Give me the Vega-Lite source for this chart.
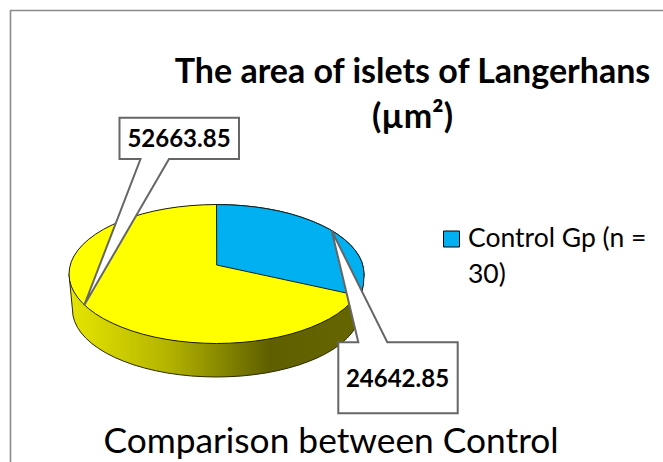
{"$schema":"https://vega.github.io/schema/vega-lite/v6.json","width":663,"height":462,"autosize":"none","padding":0,"background":"white","view":{"stroke":null},
"title":{"text":["The area of islets of Langerhans","(µm²)"],"font":"Lato","fontSize":34,"fontWeight":"bold","color":"#000000","anchor":"middle","dx":81,"offset":-135,"lineHeight":45},
"encoding":{"x":{"field":"x","type":"quantitative","scale":{"domain":[0,663],"nice":false,"zero":false},"axis":null},"y":{"field":"y","type":"quantitative","scale":{"domain":[462,0],"nice":false,"zero":false},"axis":null}},
"layer":[
{"data":{"values":[{"i":0,"x":10.5,"y":462},{"i":1,"x":10.5,"y":10.5},{"i":2,"x":663,"y":10.5}]},"mark":{"type":"line","stroke":"#8a8a8a","strokeWidth":1.6},"encoding":{"order":{"field":"i"}}},
{"data":{"values":[{"i":0,"x":69,"y":274},{"i":1,"x":72.5,"y":310},{"i":2,"x":73,"y":315.8},{"i":3,"x":74.7,"y":321.6},{"i":4,"x":77.4,"y":327.3},{"i":5,"x":81.2,"y":332.9},{"i":6,"x":86,"y":338.3},{"i":7,"x":91.8,"y":343.5},{"i":8,"x":98.5,"y":348.4},{"i":9,"x":106.2,"y":353.1},{"i":10,"x":114.7,"y":357.4},{"i":11,"x":123.9,"y":361.3},{"i":12,"x":133.9,"y":364.9},{"i":13,"x":144.5,"y":368},{"i":14,"x":155.6,"y":370.7},{"i":15,"x":167.3,"y":373},{"i":16,"x":179.2,"y":374.7},{"i":17,"x":191.5,"y":376},{"i":18,"x":203.9,"y":376.7},{"i":19,"x":216.5,"y":377},{"i":20,"x":229.1,"y":376.7},{"i":21,"x":241.5,"y":376},{"i":22,"x":253.8,"y":374.7},{"i":23,"x":265.7,"y":373},{"i":24,"x":277.4,"y":370.7},{"i":25,"x":288.5,"y":368},{"i":26,"x":299.1,"y":364.9},{"i":27,"x":309.1,"y":361.3},{"i":28,"x":318.3,"y":357.4},{"i":29,"x":326.8,"y":353.1},{"i":30,"x":334.5,"y":348.4},{"i":31,"x":341.2,"y":343.5},{"i":32,"x":347,"y":338.3},{"i":33,"x":351.8,"y":332.9},{"i":34,"x":355.6,"y":327.3},{"i":35,"x":358.3,"y":321.6},{"i":36,"x":360,"y":315.8},{"i":37,"x":360.5,"y":310},{"i":38,"x":364,"y":274}]},
"mark":{"type":"line","interpolate":"linear-closed","stroke":"#2a2a00","strokeWidth":1,"fill":{"gradient":"linear","x1":0,"y1":0,"x2":1,"y2":0,"stops":[{"offset":0,"color":"#e6e600"},{"offset":0.33,"color":"#b5b500"},{"offset":0.68,"color":"#5f5f00"},{"offset":1,"color":"#666600"}]}},"encoding":{"order":{"field":"i"}}},
{"data":{"values":[{"i":0,"x":364,"y":274},{"i":1,"x":363.4,"y":267.9},{"i":2,"x":361.8,"y":261.9},{"i":3,"x":359,"y":256},{"i":4,"x":355.1,"y":250.2},{"i":5,"x":350.2,"y":244.6},{"i":6,"x":344.2,"y":239.2},{"i":7,"x":337.3,"y":234.1},{"i":8,"x":329.5,"y":229.3},{"i":9,"x":320.8,"y":224.9},{"i":10,"x":311.3,"y":220.8},{"i":11,"x":301.1,"y":217.1},{"i":12,"x":290.3,"y":213.8},{"i":13,"x":278.8,"y":211},{"i":14,"x":266.9,"y":208.7},{"i":15,"x":254.7,"y":206.9},{"i":16,"x":242.1,"y":205.6},{"i":17,"x":229.4,"y":204.8},{"i":18,"x":216.5,"y":204.5},{"i":19,"x":203.6,"y":204.8},{"i":20,"x":190.9,"y":205.6},{"i":21,"x":178.3,"y":206.9},{"i":22,"x":166.1,"y":208.7},{"i":23,"x":154.2,"y":211},{"i":24,"x":142.7,"y":213.8},{"i":25,"x":131.9,"y":217.1},{"i":26,"x":121.7,"y":220.8},{"i":27,"x":112.2,"y":224.9},{"i":28,"x":103.5,"y":229.3},{"i":29,"x":95.7,"y":234.1},{"i":30,"x":88.8,"y":239.2},{"i":31,"x":82.8,"y":244.6},{"i":32,"x":77.9,"y":250.2},{"i":33,"x":74,"y":256},{"i":34,"x":71.2,"y":261.9},{"i":35,"x":69.6,"y":267.9},{"i":36,"x":69,"y":274},{"i":37,"x":69.6,"y":280.1},{"i":38,"x":71.2,"y":286.1},{"i":39,"x":74,"y":292},{"i":40,"x":77.9,"y":297.8},{"i":41,"x":82.8,"y":303.4},{"i":42,"x":88.8,"y":308.8},{"i":43,"x":95.7,"y":313.9},{"i":44,"x":103.5,"y":318.7},{"i":45,"x":112.2,"y":323.1},{"i":46,"x":121.7,"y":327.2},{"i":47,"x":131.9,"y":330.9},{"i":48,"x":142.7,"y":334.2},{"i":49,"x":154.2,"y":337},{"i":50,"x":166.1,"y":339.3},{"i":51,"x":178.3,"y":341.1},{"i":52,"x":190.9,"y":342.4},{"i":53,"x":203.6,"y":343.2},{"i":54,"x":216.5,"y":343.5},{"i":55,"x":229.4,"y":343.2},{"i":56,"x":242.1,"y":342.4},{"i":57,"x":254.7,"y":341.1},{"i":58,"x":266.9,"y":339.3},{"i":59,"x":278.8,"y":337},{"i":60,"x":290.3,"y":334.2},{"i":61,"x":301.1,"y":330.9},{"i":62,"x":311.3,"y":327.2},{"i":63,"x":320.8,"y":323.1},{"i":64,"x":329.5,"y":318.7},{"i":65,"x":337.3,"y":313.9},{"i":66,"x":344.2,"y":308.8},{"i":67,"x":350.2,"y":303.4},{"i":68,"x":355.1,"y":297.8},{"i":69,"x":359,"y":292},{"i":70,"x":361.8,"y":286.1},{"i":71,"x":363.4,"y":280.1}]},
"mark":{"type":"line","interpolate":"linear-closed","stroke":"#1a1a00","strokeWidth":1,"fill":"#ffff00"},"encoding":{"order":{"field":"i"}}},
{"data":{"values":[{"i":0,"x":216.7,"y":265},{"i":1,"x":216.5,"y":204.5},{"i":2,"x":229.4,"y":204.8},{"i":3,"x":242.1,"y":205.6},{"i":4,"x":254.7,"y":206.9},{"i":5,"x":266.9,"y":208.7},{"i":6,"x":278.8,"y":211},{"i":7,"x":290.3,"y":213.8},{"i":8,"x":301.1,"y":217.1},{"i":9,"x":311.3,"y":220.8},{"i":10,"x":320.8,"y":224.9},{"i":11,"x":329.5,"y":229.3},{"i":12,"x":337.3,"y":234.1},{"i":13,"x":344.2,"y":239.2},{"i":14,"x":350.2,"y":244.6},{"i":15,"x":355.1,"y":250.2},{"i":16,"x":359,"y":256},{"i":17,"x":361.8,"y":261.9},{"i":18,"x":363.4,"y":267.9},{"i":19,"x":364,"y":274},{"i":20,"x":363.5,"y":284},{"i":21,"x":361.7,"y":292},{"i":22,"x":357,"y":295.3}]},
"mark":{"type":"line","interpolate":"linear-closed","stroke":"#10202a","strokeWidth":1,"fill":"#00b0f0"},"encoding":{"order":{"field":"i"}}},
{"data":{"values":[{"i":0,"x":119.5,"y":117.7},{"i":1,"x":239,"y":117.7},{"i":2,"x":239,"y":159},{"i":3,"x":169,"y":159},{"i":4,"x":84.3,"y":305},{"i":5,"x":140.5,"y":159},{"i":6,"x":119.5,"y":159}]},
"mark":{"type":"line","interpolate":"linear-closed","stroke":"#666666","strokeWidth":2,"fill":"#ffffff"},"encoding":{"order":{"field":"i"}}},
{"data":{"values":[{"i":0,"x":338.3,"y":342.3},{"i":1,"x":358.3,"y":342.3},{"i":2,"x":331.7,"y":230.7},{"i":3,"x":387.3,"y":342.3},{"i":4,"x":457.7,"y":342.3},{"i":5,"x":457.7,"y":413.3},{"i":6,"x":338.3,"y":413.3}]},
"mark":{"type":"line","interpolate":"linear-closed","stroke":"#666666","strokeWidth":2,"fill":"#ffffff"},"encoding":{"order":{"field":"i"}}},
{"data":{"values":[{"x":443.5,"x2":459.5,"y":231,"y2":247}]},"mark":{"type":"rect","fill":"#00b0f0","stroke":"#000000","strokeWidth":1},"encoding":{"x2":{"field":"x2"},"y2":{"field":"y2"}}},
{"data":{"values":[{"label":"52663.85","x":179,"y":147},{"label":"24642.85","x":397.5,"y":387}]},"mark":{"type":"text","font":"Lato","fontSize":24,"fontWeight":"bold","color":"#000000","align":"center","baseline":"alphabetic"},"encoding":{"text":{"field":"label"}}},
{"data":{"values":[{"label":"Control Gp (n =","x":468,"y":247},{"label":"30)","x":468,"y":283}]},"mark":{"type":"text","font":"Lato","fontSize":26.5,"color":"#000000","align":"left","baseline":"alphabetic"},"encoding":{"text":{"field":"label"}}},
{"data":{"values":[{"label":"Comparison between Control","x":331,"y":453}]},"mark":{"type":"text","font":"Lato","fontSize":35.3,"color":"#000000","align":"center","baseline":"alphabetic"},"encoding":{"text":{"field":"label"}}}
]}
